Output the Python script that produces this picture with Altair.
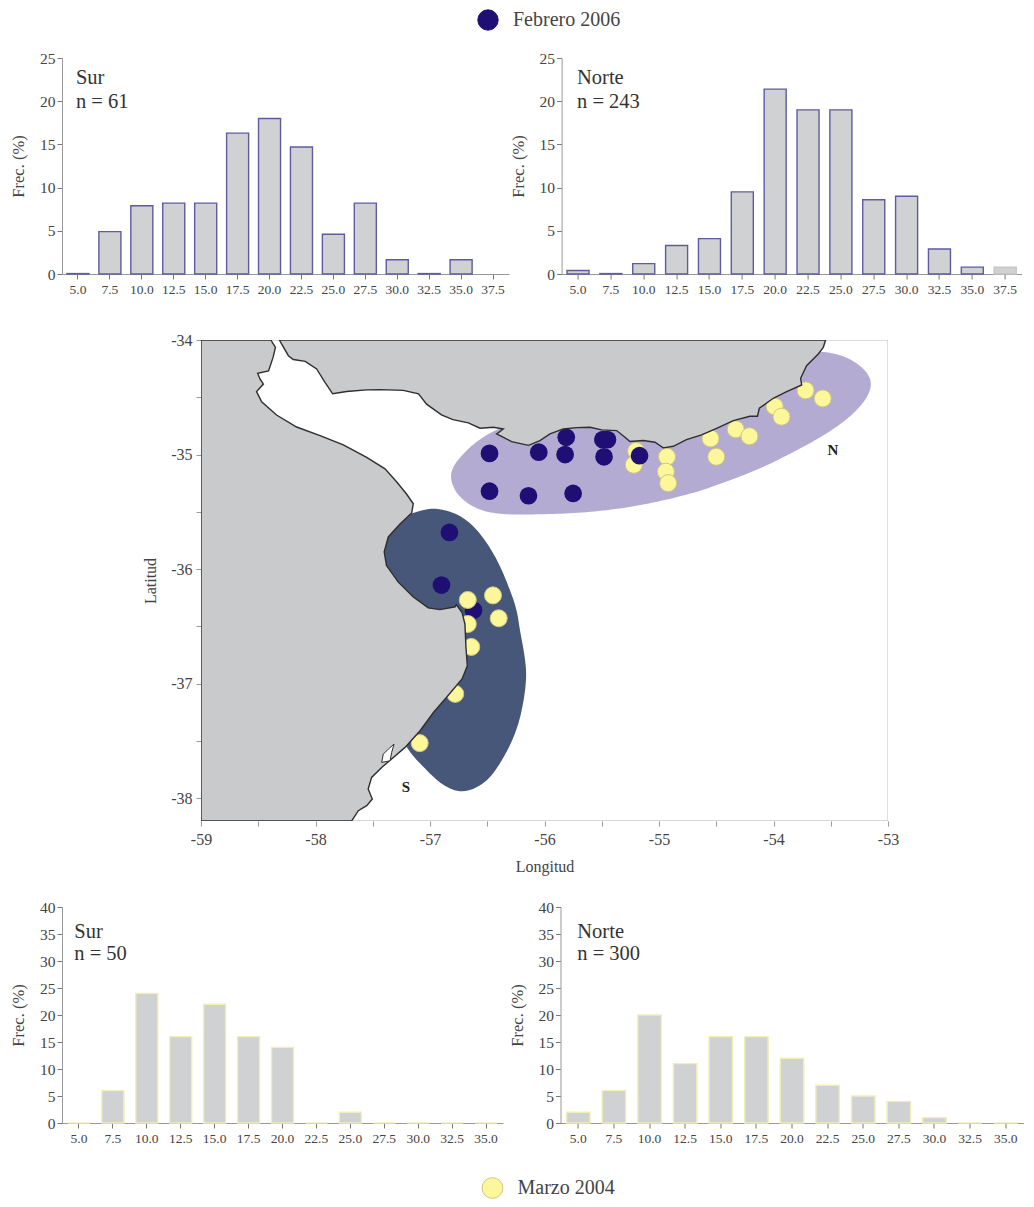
import altair as alt
import pandas as pd

SERIF = "Liberation Serif"
TXT = "#444444"

# ---------- histograms ----------
labels_top = ["5.0","7.5","10.0","12.5","15.0","17.5","20.0","22.5","25.0","27.5","30.0","32.5","35.0","37.5"]
labels_bot = labels_top[:-1]
feb_sur = [0.05,4.9,7.9,8.2,8.2,16.3,18.0,14.7,4.6,8.2,1.65,0.05,1.65,None]
feb_norte = [0.4,0.05,1.2,3.3,4.1,9.5,21.4,19.0,19.0,8.6,9.0,2.9,0.8,0.8]
mar_sur = [0,6,24,16,22,16,14,0,2,0,0,0,0]
mar_norte = [2,6,20,11,16,16,12,7,5,4,1,0,0]

# ---------- map (lon, lat) ----------
argentina = [(-58.39,-34.0),(-58.35,-34.065),(-58.37,-34.15),(-58.41,-34.27),(-58.505,-34.29),(-58.485,-34.34),
 (-58.455,-34.385),(-58.515,-34.45),(-58.47,-34.54),(-58.34,-34.655),(-58.165,-34.76),(-57.96,-34.835),
 (-57.757,-34.915),(-57.553,-35.025),(-57.393,-35.125),(-57.29,-35.24),(-57.205,-35.345),(-57.146,-35.43),
 (-57.16,-35.51),(-57.26,-35.605),(-57.364,-35.72),(-57.40,-35.85),(-57.38,-35.97),(-57.277,-36.115),
 (-57.146,-36.245),(-57.015,-36.34),(-56.913,-36.355),(-56.78,-36.33),(-56.77,-36.31),(-56.72,-36.38),
 (-56.695,-36.48),(-56.686,-36.686),(-56.674,-36.846),(-56.72,-36.96),(-56.855,-37.12),(-56.97,-37.253),
 (-57.087,-37.413),(-57.218,-37.558),(-57.32,-37.646),(-57.422,-37.733),(-57.51,-37.82),(-57.54,-37.922),
 (-57.504,-38.009),(-57.553,-38.067),(-57.626,-38.111),(-57.684,-38.2),(-59.0,-38.2),(-59.0,-34.0),(-58.39,-34.0)]
uruguay = [(-58.316,-34.0),(-58.237,-34.137),(-58.194,-34.17),(-58.09,-34.186),(-57.99,-34.253),(-57.917,-34.37),
 (-57.85,-34.47),(-57.728,-34.45),(-57.553,-34.436),(-57.437,-34.433),(-57.233,-34.44),(-57.10,-34.47),
 (-57.03,-34.56),(-56.90,-34.654),(-56.80,-34.695),(-56.665,-34.724),(-56.563,-34.77),(-56.447,-34.762),
 (-56.36,-34.777),(-56.418,-34.82),(-56.287,-34.887),(-56.14,-34.92),(-56.04,-34.878),(-55.952,-34.82),
 (-55.836,-34.777),(-55.72,-34.765),(-55.603,-34.762),(-55.50,-34.785),(-55.37,-34.791),(-55.297,-34.849),
 (-55.254,-34.887),(-55.137,-34.878),(-55.035,-34.893),(-54.963,-34.942),(-54.875,-34.928),(-54.76,-34.87),
 (-54.628,-34.829),(-54.497,-34.771),(-54.351,-34.704),(-54.206,-34.666),(-54.14,-34.666),(-54.124,-34.596),
 (-54.002,-34.509),(-53.885,-34.451),(-53.754,-34.393),(-53.763,-34.334),(-53.711,-34.224),(-53.609,-34.122),
 (-53.565,-34.064),(-53.545,-34.0),(-58.316,-34.0)]
laguna = [(-57.422,-37.689),(-57.408,-37.617),(-57.364,-37.573),(-57.314,-37.529),(-57.335,-37.602),(-57.349,-37.675),(-57.422,-37.689)]
zona_n = [(-53.551,-34.102),(-53.39,-34.137),(-53.26,-34.209),(-53.172,-34.297),(-53.143,-34.384),(-53.172,-34.486),
 (-53.26,-34.602),(-53.39,-34.718),(-53.565,-34.835),(-53.798,-34.966),(-54.089,-35.111),(-54.38,-35.227),
 (-54.671,-35.329),(-54.962,-35.402),(-55.254,-35.46),(-55.545,-35.498),(-55.836,-35.518),(-56.127,-35.524),
 (-56.33,-35.524),(-56.505,-35.504),(-56.651,-35.446),(-56.767,-35.344),(-56.82,-35.227),(-56.811,-35.126),
 (-56.738,-35.024),(-56.622,-34.907),(-56.447,-34.791),(-56.2,-34.7),(-55.5,-34.6),(-54.8,-34.6),(-54.0,-34.3),
 (-53.7,-34.1),(-53.551,-34.102)]
zona_s = [(-56.971,-35.469),(-56.854,-35.489),(-56.738,-35.533),(-56.622,-35.62),(-56.505,-35.766),(-56.403,-35.94),
 (-56.316,-36.144),(-56.243,-36.347),(-56.214,-36.54),(-56.17,-36.773),(-56.156,-36.948),(-56.185,-37.18),
 (-56.243,-37.413),(-56.36,-37.66),(-56.505,-37.865),(-56.709,-37.96),(-56.884,-37.895),(-57.029,-37.76),
 (-57.204,-37.573),(-57.4,-37.2),(-57.6,-36.5),(-57.6,-35.9),(-57.4,-35.6),(-57.087,-35.489),(-56.971,-35.469)]
marco = [(-59,-38.2),(-53,-38.2),(-53,-34),(-59,-34),(-59,-38.2)]

feb_under = [(-56.62,-36.36)]
feb_lon = [-56.48,-56.05,-56.48,-56.14,-56.83,-56.90,-55.81,-55.82,-55.49,-55.45,-55.48,-55.17,-55.75]
feb_lat = [-34.99,-34.98,-35.32,-35.36,-35.68,-36.14,-34.85,-35.00,-34.87,-34.87,-35.02,-35.01,-35.34]
mar_lon = [-55.20,-55.22,-54.93,-54.94,-54.92,-54.55,-54.50,-54.33,-54.21,-53.99,-53.93,-53.72,-53.57,
           -56.67,-56.45,-56.40,-56.67,-56.64,-56.78,-57.09]
mar_lat = [-34.97,-35.09,-35.02,-35.15,-35.25,-34.86,-35.02,-34.78,-34.84,-34.58,-34.67,-34.44,-34.51,
           -36.27,-36.23,-36.43,-36.48,-36.68,-37.09,-37.52]
zona_text = ["N","S"]
zona_tlon = [-53.48,-57.21]
zona_tlat = [-34.96,-37.90]

FILL_BAR = "#d0d1d3"
NAVY = "#1f0f74"
YELLOW = "#fdf79c"
YSTROKE = "#cfc67c"

def hist(labels, values, ymax, ystep, width, pad, stroke, name, n, ny, dx, pale=None):
    df = pd.DataFrame({"clase": labels, "frec": values}).dropna()
    xs = alt.Scale(domain=labels, paddingInner=pad, paddingOuter=pad/2)
    ys = alt.Scale(domain=[0, ymax], nice=False)
    x = alt.X("clase:N", scale=xs,
              axis=alt.Axis(title=None, labelAngle=0, labelFont=SERIF, labelFontSize=13.5, labelColor=TXT,
                            tickColor="#777777", tickSize=5, domainColor="#999999", labelPadding=3, grid=False,
                            labelOverlap=False))
    y = alt.Y("frec:Q", scale=ys,
              axis=alt.Axis(title="Frec. (%)", values=list(range(0, ymax+1, ystep)), labelFont=SERIF, labelFontSize=15.5,
                            labelColor=TXT, tickColor="#777777", tickSize=5, domainColor="#999999", labelPadding=2,
                            titleFont=SERIF, titleFontSize=16.5, titleFontWeight="normal", titleColor=TXT,
                            titlePadding=13, grid=False, labelOverlap=False))
    enc = dict(x=x, y=y)
    if pale:
        enc["stroke"] = alt.condition(alt.datum.clase == pale, alt.value("#c4c4c4"), alt.value(stroke))
    bars = alt.Chart(df).mark_bar(fill=FILL_BAR, stroke=stroke, strokeWidth=1.4).encode(**enc)
    note = pd.DataFrame({"clase": [labels[0], labels[0]], "frec": ny, "t": [name, "n = %d" % n]})
    txt = alt.Chart(note).mark_text(align="left", font=SERIF, fontSize=20.5, color="#333333", dx=dx).encode(
        x=x, y=y, text="t:N")
    return alt.layer(bars, txt).properties(width=width, height=216)

def feature(coords):
    return {"type": "Feature", "properties": {}, "geometry": {"type": "Polygon", "coordinates": [[list(p) for p in coords]]}}

def rounded(coords, times=3):
    # corner-cut the read outline so it draws as a smooth curve
    pts = list(coords[:-1])
    for _ in range(times):
        out = []
        for i, (a, b) in enumerate(pts):
            c, d = pts[(i + 1) % len(pts)]
            out.append((0.75*a + 0.25*c, 0.75*b + 0.25*d))
            out.append((0.25*a + 0.75*c, 0.25*b + 0.75*d))
        pts = out
    return pts + [pts[0]]

K = 114.5

def shape(coords, fill, stroke=None, sw=0):
    kw = dict(fill=fill, strokeWidth=sw)
    if stroke:
        kw["stroke"] = stroke
    return alt.Chart(alt.Data(values=[feature(coords)])).mark_geoshape(**kw).project(
        type="identity", reflectY=True, scale=K, translate=[59*K, -34*K])

x_major = [-59 + 0.5*i for i in range(13)]
y_major = [-38 + 0.5*i for i in range(9)]
lab = "datum.value % 1 == 0 ? toString(datum.value) : ''"
xenc = alt.X("lon:Q", scale=alt.Scale(domain=[-59, -53], nice=False),
             axis=alt.Axis(title="Longitud", values=x_major, labelExpr=lab, tickSize=5, tickColor="#999999", domain=False,
                           labelFont=SERIF, labelFontSize=16, labelColor=TXT, labelPadding=5, grid=False, labelFlush=False,
                           labelOverlap=False,
                           titleFont=SERIF, titleFontSize=16, titleFontWeight="normal", titleColor=TXT, titlePadding=11))
yenc = alt.Y("lat:Q", scale=alt.Scale(domain=[-38.2, -34], nice=False),
             axis=alt.Axis(title="Latitud", values=y_major, labelExpr=lab, tickSize=5, tickColor="#999999", domain=False,
                           labelFont=SERIF, labelFontSize=16, labelColor=TXT, labelPadding=4, grid=False, labelFlush=False,
                           labelOverlap=False,
                           titleFont=SERIF, titleFontSize=16, titleFontWeight="normal", titleColor=TXT, titlePadding=12))

df_feb_u = pd.DataFrame(feb_under, columns=["lon", "lat"])
df_feb = pd.DataFrame({"lon": feb_lon, "lat": feb_lat})
df_mar = pd.DataFrame({"lon": mar_lon, "lat": mar_lat})
df_txt = pd.DataFrame({"lon": zona_tlon, "lat": zona_tlat, "t": zona_text})

p_feb_u = alt.Chart(df_feb_u).mark_circle(size=314, opacity=1, color=NAVY).encode(x=xenc, y=yenc)
p_mar = alt.Chart(df_mar).mark_point(size=290, filled=True, opacity=1, fill=YELLOW, stroke=YSTROKE, strokeWidth=1).encode(x="lon:Q", y="lat:Q")
p_feb = alt.Chart(df_feb).mark_circle(size=314, opacity=1, color=NAVY).encode(x="lon:Q", y="lat:Q")
t_zona = alt.Chart(df_txt).mark_text(font=SERIF, fontSize=15, fontWeight="bold", color="#222222").encode(x="lon:Q", y="lat:Q", text="t:N")

mapa = alt.layer(
    shape(marco, "#ffffff", "#bdbdbd", 1),
    shape(rounded(zona_n), "#b3abd2"),
    shape(rounded(zona_s), "#47577a"),
    p_feb_u, p_mar, p_feb,
    shape(argentina, "#c9cacc", "#2e2e2e", 1.4),
    shape(uruguay, "#c9cacc", "#2e2e2e", 1.4),
    shape(laguna, "#ffffff", "#2e2e2e", 1),
    t_zona,
).properties(width=687, height=481)

def leyenda(serie, color, size, stroke, lx):
    df = pd.DataFrame({"serie": [serie]})
    return alt.Chart(df).mark_circle(size=0, opacity=1).encode(
        fill=alt.Fill("serie:N", scale=alt.Scale(domain=[serie], range=[color]),
                      legend=alt.Legend(orient="none", legendX=lx, legendY=0, title=None, symbolSize=size, padding=0,
                                        symbolType="circle", symbolStrokeColor=stroke, symbolStrokeWidth=1,
                                        labelFont=SERIF, labelFontSize=20, labelColor=TXT, labelOffset=14))
    ).properties(width=900, height=1)

def espacio(w):
    return alt.Chart(pd.DataFrame({"a": [0]})).mark_circle(size=0).properties(width=w, height=1)

ny_top = [22.67, 19.87]
ny_bot = [35.3, 31.3]
fila_sup = alt.hconcat(
    hist(labels_top, feb_sur, 25, 5, 447, 0.31, "#5f5b9e", "Sur", 61, ny_top, -2),
    hist(labels_top, feb_norte, 25, 5, 460, 0.33, "#5f5b9e", "Norte", 243, ny_top, -1, pale="37.5"),
    spacing=52.6, bounds="flush")
fila_inf = alt.hconcat(
    hist(labels_bot, mar_sur, 40, 5, 441, 0.35, "#f1efb5", "Sur", 50, ny_bot, -4.7),
    hist(labels_bot, mar_norte, 40, 5, 463, 0.34, "#f1efb5", "Norte", 300, ny_bot, -1),
    spacing=57.5, bounds="flush")
fila_map = alt.hconcat(espacio(1), mapa, spacing=138, bounds="flush")

c = alt.vconcat(leyenda("Febrero 2006", NAVY, 415, NAVY, 415), fila_sup, spacing=41)
c = alt.vconcat(c, fila_map, spacing=36)
c = alt.vconcat(c, fila_inf, spacing=26)
chart = alt.vconcat(c, leyenda("Marzo 2004", YELLOW, 430, YSTROKE, 419.5), spacing=32).resolve_scale(fill="independent")
chart = chart.properties(padding={"left": 2, "top": 1, "right": 0, "bottom": 0}, background="white").configure_view(stroke=None)

chart.save("out.html", embed_options={"renderer": "svg", "actions": False})
